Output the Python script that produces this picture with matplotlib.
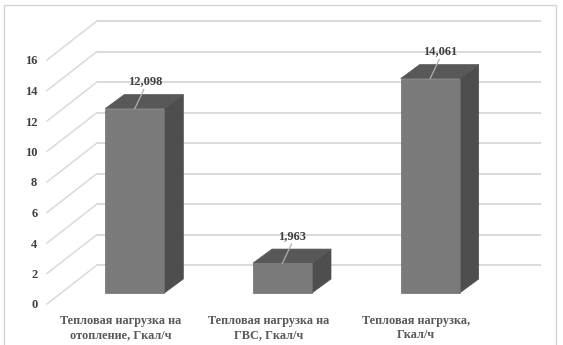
import matplotlib
matplotlib.use("Agg")
import matplotlib.pyplot as plt
from matplotlib.patches import Rectangle, Polygon

# значения тепловой нагрузки, Гкал/ч
categories = ["Тепловая нагрузка на\nотопление, Гкал/ч",
              "Тепловая нагрузка на\nГВС, Гкал/ч",
              "Тепловая нагрузка,\nГкал/ч"]
values = [12.098, 1.963, 14.061]
value_labels = ["12,098", "1,963", "14,061"]
yticks = [0, 2, 4, 6, 8, 10, 12, 14, 16]

W, H = 563, 345
FRONT, TOP, SIDE = "#7a7a7a", "#585858", "#4e4e4e"
GRID = "#dadada"
TXT = "#404040"

plt.rcParams["font.family"] = ["Liberation Serif", "DejaVu Serif"]
plt.rcParams["font.weight"] = "bold"

fig = plt.figure(figsize=(W / 100, H / 100), dpi=100)
# передняя плоскость: слева 47 px, справа 490 px, 0 -> 304 px, 16 -> 60 px
ax = fig.add_axes([47 / W, (H - 304) / H, 443 / W, 244 / H])
ax.set_xlim(-0.5, len(values) - 0.5)
ax.set_ylim(0, 16)
for s in ax.spines.values():
    s.set_visible(False)

# пиксели на единицу данных
sx = 443 / len(values)
sy = 244 / 16


def off(x, y, dx, dy):
    return x + dx / sx, y + dy / sy


# задняя стенка и боковые диагонали сетки
WALL = (50, 39)
for t in yticks:
    x0, y0 = off(-0.5, t, *WALL)
    x1, y1 = off(len(values) - 0.5, t, *WALL)
    ax.plot([-0.5, x0], [t, y0], color=GRID, lw=1.1, clip_on=False, zorder=1)
    ax.plot([x0, x1], [y0, y1], color=GRID, lw=1.4, clip_on=False, zorder=1)

# объёмные столбцы
SHIFT = (14, 11)   # смещение передней грани вглубь
DEPTH = (19, 14)   # глубина столбца
BW = 59 / sx
for i, v in enumerate(values):
    xl, yb = off(i - BW / 2, 0, *SHIFT)
    xr = xl + BW
    yt = yb + v
    ddx, ddy = DEPTH[0] / sx, DEPTH[1] / sy
    ax.add_patch(Polygon([(xr, yb), (xr + ddx, yb + ddy), (xr + ddx, yt + ddy), (xr, yt)],
                         closed=True, fc=SIDE, ec=SIDE, lw=0.5, clip_on=False, zorder=3))
    ax.add_patch(Polygon([(xl, yt), (xr, yt), (xr + ddx, yt + ddy), (xl + ddx, yt + ddy)],
                         closed=True, fc=TOP, ec=TOP, lw=0.5, clip_on=False, zorder=3))
    ax.add_patch(Rectangle((xl, yb), BW, v, fc=FRONT, ec="#6e6e6e", lw=0.5,
                           clip_on=False, zorder=4))
    # подпись значения с выноской
    xc = (xl + xr) / 2
    lx, ly = off(xc, yt, 9, 19)
    ax.plot([xc, lx], [yt, ly], color="#b0b0b0", lw=0.9, clip_on=False, zorder=5)
    tx, ty = off(xc, yt, 10, 27)
    ax.text(tx, ty, value_labels[i], ha="center", va="center", fontsize=9,
            fontweight="bold", color=TXT, zorder=6)

ax.set_yticks(yticks, [str(t) for t in yticks], fontweight="bold")
ax.set_xticks(range(len(categories)), categories, fontweight="bold")
ax.tick_params(axis="y", length=0, pad=7, labelsize=9, labelcolor=TXT)
ax.tick_params(axis="x", length=0, pad=8, labelsize=8.8, labelcolor="#595959")
for lab in ax.get_xticklabels():
    lab.set_linespacing(1.2)

# рамка области диаграммы
fig.add_artist(Rectangle((4 / W, -0.02), 552 / W, (H - 5) / H + 0.02,
                         transform=fig.transFigure, fill=False, ec="#d4d4d4", lw=1))

fig.savefig("out.png", dpi=100)
